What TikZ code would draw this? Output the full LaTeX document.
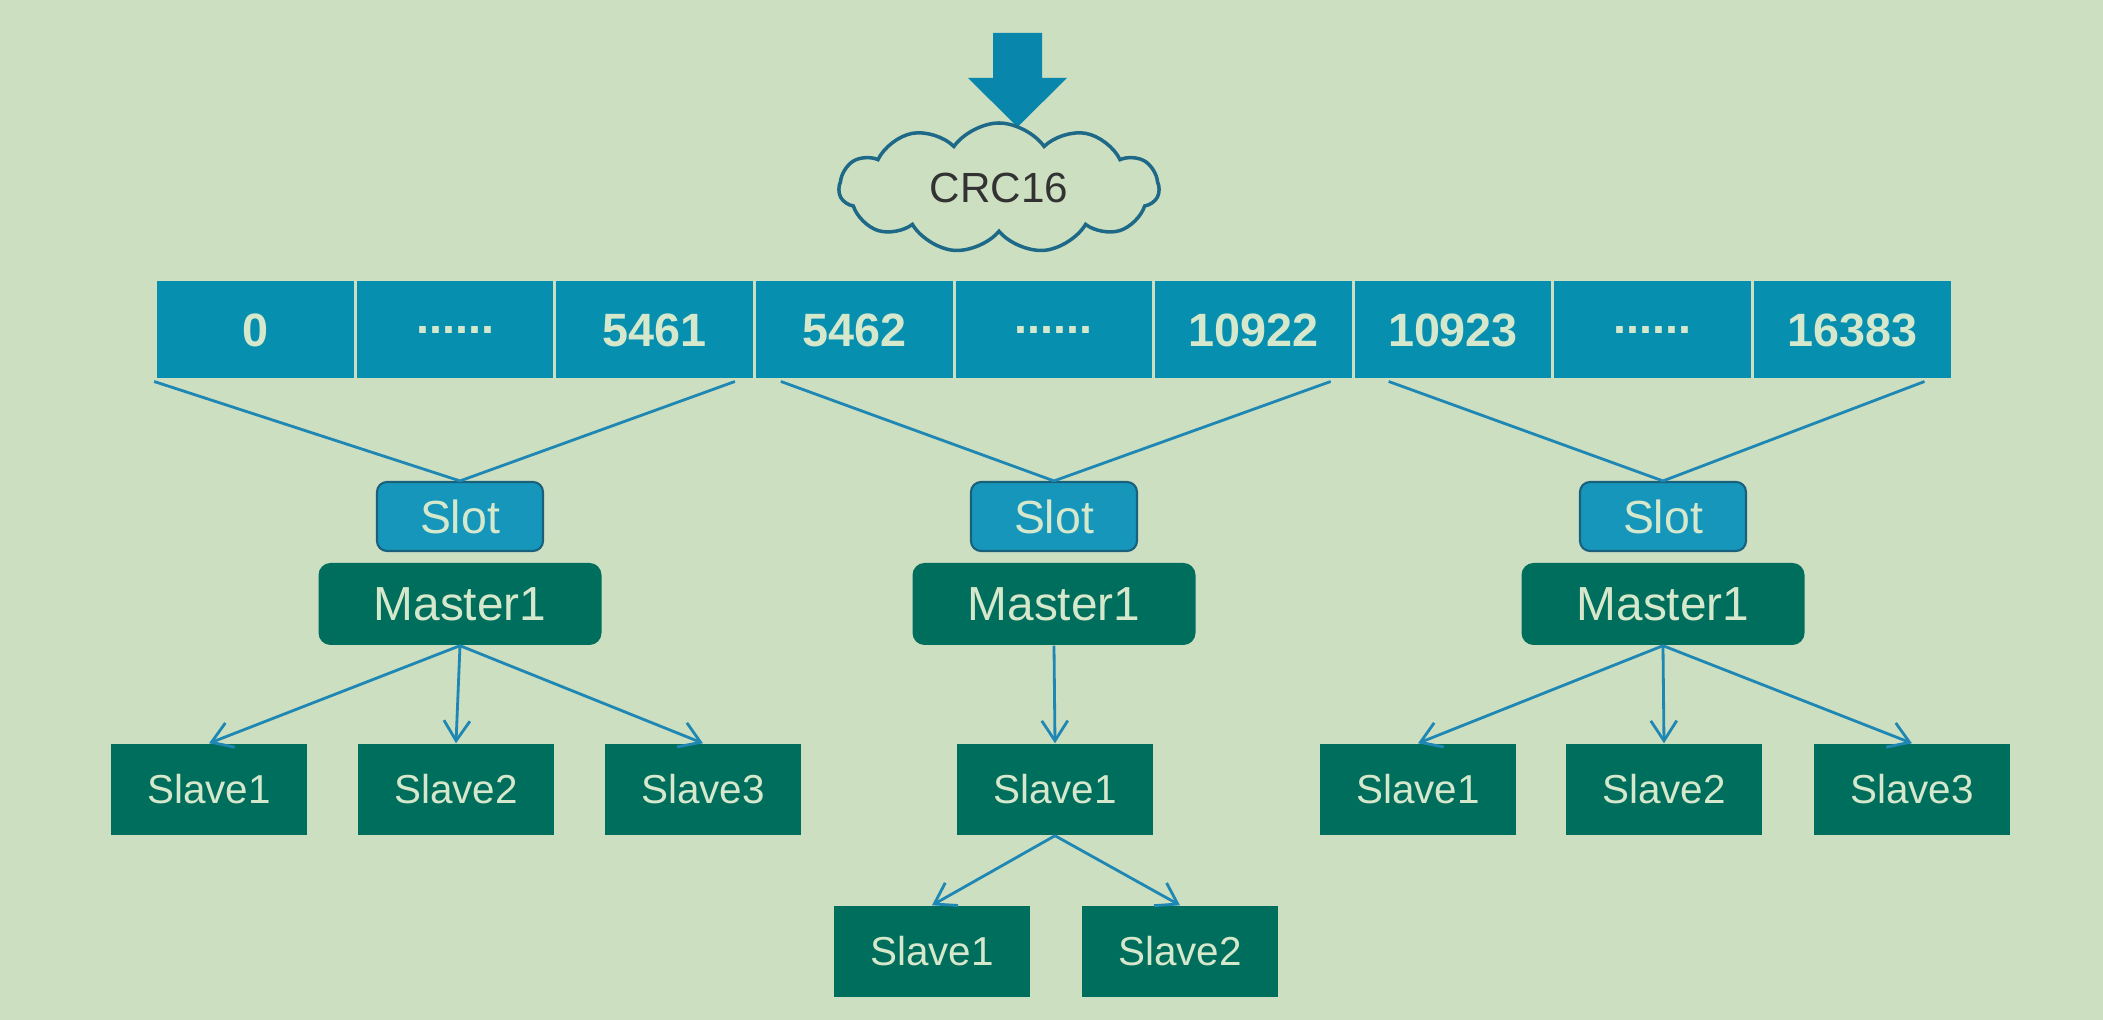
\documentclass[tikz,border=0pt]{standalone}
\usepackage{fontspec}
\setmainfont{Liberation Sans}
\usetikzlibrary{arrows.meta, positioning, shapes.symbols, calc}

\definecolor{bgcol}{RGB}{205,223,193}
\definecolor{barblue}{RGB}{7,143,176}
\definecolor{feedblue}{RGB}{8,134,172}
\definecolor{slotblue}{RGB}{22,150,186}
\definecolor{slotedge}{RGB}{24,96,124}
\definecolor{nodegreen}{RGB}{0,110,92}
\definecolor{txtcol}{RGB}{214,232,204}
\definecolor{linecol}{RGB}{30,135,180}
\definecolor{cloudedge}{RGB}{30,105,135}
\definecolor{cloudtxt}{RGB}{50,50,50}

\begin{document}
\begin{tikzpicture}[
    cell/.style={rectangle, fill=barblue, draw=bgcol, line width=0.03cm, minimum width=1.996cm, minimum height=1.0cm, font=\bfseries\fontsize{13.3}{16}\selectfont, text=txtcol},
    slot/.style={rectangle, rounded corners=0.1cm, fill=slotblue, draw=slotedge, line width=0.6pt, minimum width=1.66cm, minimum height=0.69cm, inner sep=0pt, font=\fontsize{13.2}{16}\selectfont, text=txtcol},
    master/.style={rectangle, rounded corners=0.12cm, fill=nodegreen, minimum width=2.83cm, minimum height=0.82cm, font=\fontsize{13.6}{16}\selectfont, text=txtcol},
    slave/.style={rectangle, fill=nodegreen, minimum width=1.96cm, minimum height=0.91cm, font=\fontsize{11.5}{14}\selectfont, text=txtcol},
    link/.style={draw=linecol, line width=0.8pt},
    arrow/.style={-{Straight Barb[length=2mm, width=2.6mm]}, draw=linecol, line width=0.8pt}
]

% Background
\fill[bgcol] (0,0) rectangle (21.03,-10.20);
\useasboundingbox (0,0) rectangle (21.03,-10.20);

% Hash input
\fill[feedblue] (9.93,-0.33) -- (10.42,-0.33) -- (10.42,-0.78) -- (10.67,-0.78)
    -- (10.175,-1.27) -- (9.68,-0.78) -- (9.93,-0.78) -- cycle;
\node[cloud, cloud puffs=11, cloud puff arc=110, aspect=2.4, draw=cloudedge, line width=1pt,
    minimum width=3.2cm, minimum height=1.3cm, text=cloudtxt, font=\fontsize{12}{14}\selectfont] (crc) at (9.99,-1.88) {CRC16};

% Slot range
\node[cell] (c1) at (2.554, -3.30) {0};
\node[cell] (c2) at (4.550, -3.30) {......};
\node[cell] (c3) at (6.546, -3.30) {5461};
\node[cell] (c4) at (8.542, -3.30) {5462};
\node[cell] (c5) at (10.538, -3.30) {......};
\node[cell] (c6) at (12.534, -3.30) {10922};
\node[cell] (c7) at (14.530, -3.30) {10923};
\node[cell] (c8) at (16.526, -3.30) {......};
\node[cell] (c9) at (18.522, -3.30) {16383};

% Slots
\node[slot] (slot1) at (4.60, -5.165) {Slot};
\node[slot] (slot2) at (10.54, -5.165) {Slot};
\node[slot] (slot3) at (16.63, -5.165) {Slot};

% Masters
\node[master] (master1) at (4.60, -6.04) {Master1};
\node[master] (master2) at (10.54, -6.04) {Master1};
\node[master] (master3) at (16.63, -6.04) {Master1};

% Slaves
\node[slave] (s1a) at (2.09, -7.895) {Slave1};
\node[slave] (s1b) at (4.56, -7.895) {Slave2};
\node[slave] (s1c) at (7.03, -7.895) {Slave3};
\node[slave] (s2a) at (10.55, -7.895) {Slave1};
\node[slave] (s2b) at (9.32, -9.515) {Slave1};
\node[slave] (s2c) at (11.80, -9.515) {Slave2};
\node[slave] (s3a) at (14.18, -7.895) {Slave1};
\node[slave] (s3b) at (16.64, -7.895) {Slave2};
\node[slave] (s3c) at (19.12, -7.895) {Slave3};

% Range to slot
\draw[link] (c1.south west) -- (slot1.north);
\draw[link] ($(c3.south east)+(-0.21,0)$) -- (slot1.north);
\draw[link] ($(c4.south west)+(0.28,0)$) -- (slot2.north);
\draw[link] ($(c6.south east)+(-0.24,0)$) -- (slot2.north);
\draw[link] ($(c7.south west)+(0.37,0)$) -- (slot3.north);
\draw[link] ($(c9.south east)+(-0.29,0)$) -- (slot3.north);

% Replication
\draw[arrow] (master1.south) -- (s1a.north);
\draw[arrow] (master1.south) -- (s1b.north);
\draw[arrow] (master1.south) -- (s1c.north);
\draw[arrow] (master2.south) -- (s2a.north);
\draw[arrow] (s2a.south) -- (s2b.north);
\draw[arrow] (s2a.south) -- (s2c.north);
\draw[arrow] (master3.south) -- (s3a.north);
\draw[arrow] (master3.south) -- (s3b.north);
\draw[arrow] (master3.south) -- (s3c.north);

\end{tikzpicture}
\end{document}
